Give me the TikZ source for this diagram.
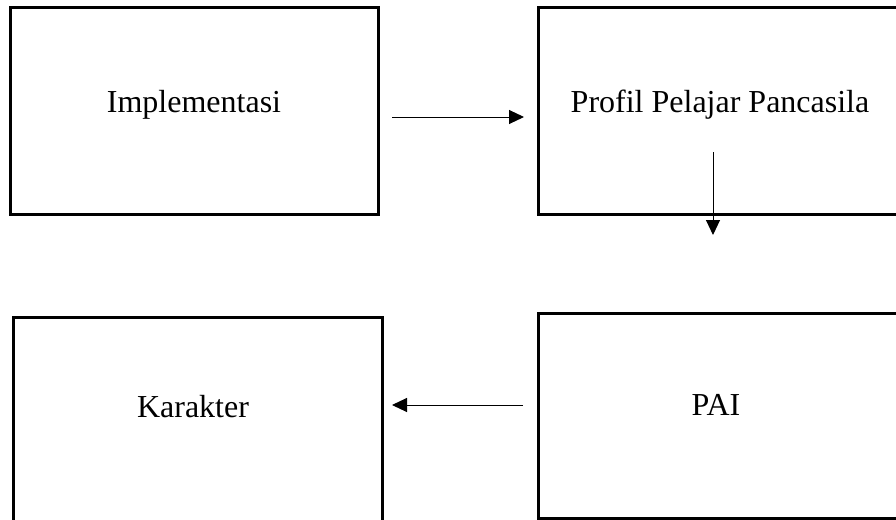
\documentclass[tikz,border=0pt]{standalone}
\usepackage{fontspec}
\setmainfont{Liberation Serif}
\usetikzlibrary{arrows.meta}
\tikzset{
  box/.style={draw=black, line width=3pt, inner sep=0pt},
  conn/.style={line width=1pt, -{Triangle[length=15pt,width=14pt]}},
  lbl/.style={font=\fontsize{32}{38}\selectfont, inner sep=0pt}
}
\begin{document}
\begin{tikzpicture}[x=1pt,y=-1pt]
\useasboundingbox (0,0) rectangle (896,519);
\node[box, minimum width=368pt, minimum height=206pt] (b1) at (194,111) {};
\node[box, minimum width=364pt, minimum height=206pt] (b2) at (720,111) {};
\node[box, minimum width=369pt, minimum height=210pt] (b3) at (197.5,422) {};
\node[box, minimum width=364pt, minimum height=205pt] (b4) at (720,415.5) {};
\node[lbl] (t1) at (194,105) {Implementasi};
\node[lbl] (t2) at (720,105) {Profil Pelajar Pancasila};
\node[lbl] (t3) at (193,407) {Karakter};
\node[lbl] (t4) at (716,405) {PAI};
\coordinate (a1s) at (392,117);
\coordinate (a1e) at (524,117);
\coordinate (a2s) at (713,152);
\coordinate (a2e) at (713,235);
\coordinate (a3s) at (523,405);
\coordinate (a3e) at (392,405);
\draw[conn] (a1s) -- (a1e);
\draw[conn] (a2s) -- (a2e);
\draw[conn] (a3s) -- (a3e);
\end{tikzpicture}
\end{document}
